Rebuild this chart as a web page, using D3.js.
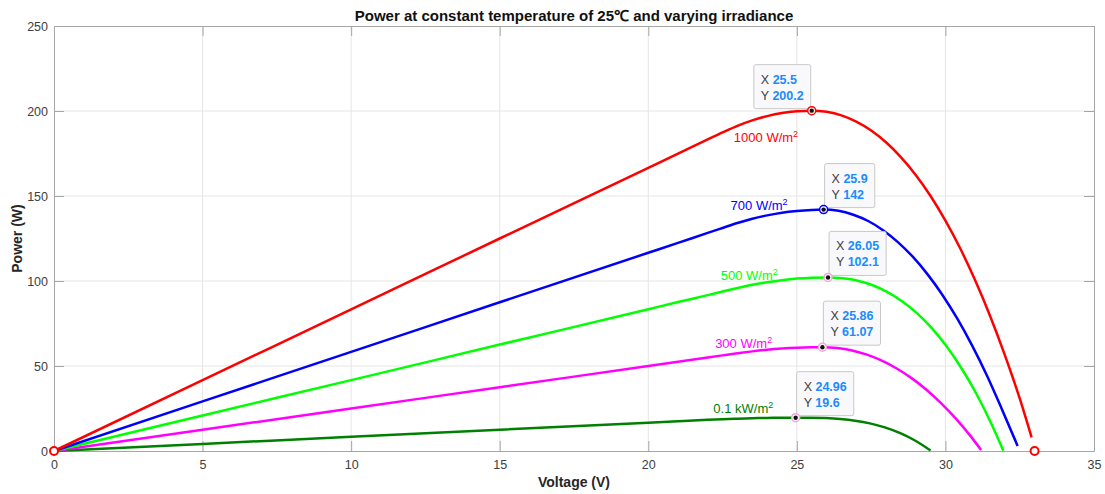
<!DOCTYPE html>
<html>
<head>
<meta charset="utf-8">
<script src="https://cdn.jsdelivr.net/npm/d3@7"></script>
<style>
    body { margin: 0; background: #fff; }
    text { font-family: "Liberation Sans", Arial, Helvetica, sans-serif; }
</style>
</head>
<body>
<div id="chart"></div>
<script>
// ---- data ----
var v1000 = [0, 5, 10, 15, 20, 21, 22, 22.5, 23, 23.5, 24, 24.5, 25, 25.5, 26, 26.5, 27, 27.5, 28, 28.5, 29, 29.5, 30, 30.5, 31, 31.5, 32, 32.5, 32.9];
var p1000 = [0, 41.7, 83.3, 125.0, 166.6, 174.9, 183.3, 187.4, 191.3, 194.5, 197.0, 198.8, 199.8, 200.2, 199.5, 197.4, 193.7, 188.5, 181.6, 172.9, 162.4, 150.0, 135.5, 119.1, 100.4, 79.6, 56.4, 30.9, 8.0];

var v700 = [0, 5, 10, 15, 20, 21, 22, 22.5, 23, 23.5, 24, 24.5, 25, 25.5, 25.9, 26.4, 26.9, 27.4, 27.9, 28.4, 28.9, 29.4, 29.9, 30.4, 30.9, 31.4, 31.9, 32.43];
var p700 = [0, 29.2, 58.3, 87.5, 116.6, 122.4, 128.3, 131.2, 134.1, 136.6, 138.6, 140.2, 141.2, 141.8, 142, 141.3, 139.0, 135.3, 129.9, 122.9, 114.3, 103.9, 91.8, 77.8, 62.0, 44.3, 24.6, 3.0];

var v500 = [0, 5, 10, 15, 20, 21, 22, 22.5, 23, 23.5, 24, 24.5, 25, 25.5, 26.05, 26.55, 27.05, 27.55, 28.05, 28.55, 29.05, 29.55, 30.05, 30.55, 31.05, 31.55, 31.95];
var p500 = [0, 20.9, 41.7, 62.6, 83.4, 87.6, 91.7, 93.8, 95.9, 97.8, 99.3, 100.5, 101.4, 101.9, 102.1, 101.6, 100.2, 97.5, 93.5, 88.0, 81.0, 72.1, 61.3, 48.4, 33.4, 15.9, 0.1];

var v300 = [0, 5, 10, 15, 20, 21, 22, 22.5, 23, 23.5, 24, 24.5, 25, 25.5, 25.86, 26.36, 26.86, 27.36, 27.86, 28.36, 28.86, 29.36, 29.86, 30.36, 30.86, 31.2];
var p300 = [0, 12.5, 25, 37.5, 50, 52.5, 55, 56.25, 57.5, 58.6, 59.56, 60.26, 60.75, 61.01, 61.07, 60.59, 59.13, 56.66, 53.14, 48.55, 42.86, 36.04, 28.05, 18.86, 8.45, 0.6];

var v100 = [0, 5, 10, 15, 20, 21, 22, 22.5, 23, 23.5, 24, 24.5, 24.96, 25.46, 25.96, 26.46, 26.96, 27.46, 27.96, 28.46, 28.96, 29.5];
var p100 = [0, 4.17, 8.33, 12.5, 16.66, 17.49, 18.32, 18.72, 19.04, 19.29, 19.47, 19.57, 19.6, 19.56, 19.36, 18.83, 17.84, 16.24, 13.88, 10.63, 6.32, 0.3];

var seriesNames = ['1000 W/m', '700 W/m', '500 W/m', '300 W/m', '0.1 kW/m'];
// where each curve label sits (data units)
var labelV = [22.88, 22.77, 22.44, 22.25, 22.19];
var labelP = [181.8, 141.8, 100.6, 60.6, 22.5];

// data tips
var tipX = ['25.5', '25.9', '26.05', '25.86', '24.96'];
var tipY = ['200.2', '142', '102.1', '61.07', '19.6'];

// open circles on the red curve (short circuit / open circuit)
var redMarkV = [0, 33];
var redMarkP = [0, 0];

var xTicks = [0, 5, 10, 15, 20, 25, 30, 35];
var yTicks = [0, 50, 100, 150, 200, 250];

// ---- styles ----
var colors = ['#ff0000', '#0000ff', '#00ff00', '#ff00ff', '#008000'];
var tipRing = ['#ff0000', '#0000ff', '#f4a6d8', '#f4a6d8', '#f4a6d8'];
var tipLeft = [true, false, false, false, false];

var width = 1105, height = 494;
var plot = { left: 54, right: 1094, top: 26, bottom: 451 };

var svg = d3.select('#chart').append('svg')
    .attr('width', width)
    .attr('height', height);

var x = d3.scaleLinear().domain([0, 35]).range([plot.left, plot.right]);
var y = d3.scaleLinear().domain([0, 250]).range([plot.bottom, plot.top]);

// grid
var grid = svg.append('g').attr('class', 'grid');
grid.selectAll('line.gx').data(xTicks.slice(1, -1)).enter().append('line')
    .attr('x1', function (d) { return x(d); }).attr('x2', function (d) { return x(d); })
    .attr('y1', plot.top).attr('y2', plot.bottom)
    .attr('stroke', '#e6e6e6').attr('stroke-width', 1);
grid.selectAll('line.gy').data(yTicks.slice(1, -1)).enter().append('line')
    .attr('y1', function (d) { return y(d); }).attr('y2', function (d) { return y(d); })
    .attr('x1', plot.left).attr('x2', plot.right)
    .attr('stroke', '#e6e6e6').attr('stroke-width', 1);

// axes (ticks pointing inward, box on all sides)
function styleAxis(g) {
    g.select('.domain').attr('stroke', '#a6a6a6');
    g.selectAll('.tick line').attr('stroke', '#a6a6a6');
    g.selectAll('.tick text').attr('fill', '#404040')
        .style('font-size', '12.5px')
        .style('font-family', '"Liberation Sans", Arial, sans-serif');
}
svg.append('g').attr('transform', 'translate(0,' + plot.bottom + ')')
    .call(d3.axisBottom(x).tickValues(xTicks).tickSizeInner(-10).tickSizeOuter(0).tickPadding(9))
    .call(styleAxis);
svg.append('g').attr('transform', 'translate(0,' + plot.top + ')')
    .call(d3.axisTop(x).tickValues(xTicks).tickSizeInner(-10).tickSizeOuter(0).tickFormat(''))
    .call(styleAxis);
svg.append('g').attr('transform', 'translate(' + plot.left + ',0)')
    .call(d3.axisLeft(y).tickValues(yTicks).tickSizeInner(-10).tickSizeOuter(0).tickPadding(6))
    .call(styleAxis);
svg.append('g').attr('transform', 'translate(' + plot.right + ',0)')
    .call(d3.axisRight(y).tickValues(yTicks).tickSizeInner(-10).tickSizeOuter(0).tickFormat(''))
    .call(styleAxis);

// curves
var curves = [[v1000, p1000], [v700, p700], [v500, p500], [v300, p300], [v100, p100]];
var line = d3.line()
    .x(function (d) { return x(d[0]); })
    .y(function (d) { return y(d[1]); })
    .curve(d3.curveMonotoneX);

// draw the weakest first so red lands on top
for (var i = curves.length - 1; i >= 0; i--) {
    var pts = curves[i][0].map(function (v, k) { return [v, curves[i][1][k]]; });
    svg.append('path')
        .datum(pts)
        .attr('d', line)
        .attr('fill', 'none')
        .attr('stroke', colors[i])
        .attr('stroke-width', 2.5);
}

// red open circles
svg.selectAll('circle.redmark').data(redMarkV).enter().append('circle')
    .attr('cx', function (d) { return x(d); })
    .attr('cy', function (d, k) { return y(redMarkP[k]); })
    .attr('r', 4)
    .attr('fill', '#fff')
    .attr('stroke', '#ff0000')
    .attr('stroke-width', 2);

// curve labels
seriesNames.forEach(function (name, k) {
    var t = svg.append('text')
        .attr('x', x(labelV[k]))
        .attr('y', y(labelP[k]))
        .attr('fill', colors[k])
        .style('font-size', '13px');
    t.append('tspan').text(name);
    t.append('tspan').attr('dy', -5).style('font-size', '9px').text('2');
});

// data tips
tipX.forEach(function (xv, k) {
    var mx = x(+xv), my = y(+tipY[k]);
    var g = svg.append('g');
    var box = g.append('rect')
        .attr('fill', '#f9f9fc')
        .attr('stroke', '#c8c8c8')
        .attr('stroke-width', 1)
        .attr('rx', 2);
    var t1 = g.append('text').style('font-size', '12.5px');
    t1.append('tspan').attr('fill', '#404040').text('X ');
    t1.append('tspan').attr('fill', '#1a8cff').attr('font-weight', 'bold').text(xv);
    var t2 = g.append('text').style('font-size', '12.5px');
    t2.append('tspan').attr('fill', '#404040').text('Y ');
    t2.append('tspan').attr('fill', '#1a8cff').attr('font-weight', 'bold').text(tipY[k]);
    var w = Math.max(t1.node().getComputedTextLength(), t2.node().getComputedTextLength()) + 14;
    var h = 44;
    var bx = tipLeft[k] ? mx - 1 - w : mx + 1;
    var by = my - 2 - h;
    box.attr('x', bx).attr('y', by).attr('width', w).attr('height', h);
    t1.attr('x', bx + 7).attr('y', by + 19);
    t2.attr('x', bx + 7).attr('y', by + 35);

    svg.append('circle').attr('cx', mx).attr('cy', my).attr('r', 4)
        .attr('fill', '#fff').attr('stroke', tipRing[k]).attr('stroke-width', 1.5);
    svg.append('circle').attr('cx', mx).attr('cy', my).attr('r', 2.2).attr('fill', '#111');
});

// title and axis labels
svg.append('text')
    .attr('x', (plot.left + plot.right) / 2).attr('y', 21)
    .attr('text-anchor', 'middle')
    .attr('font-weight', 'bold')
    .style('font-size', '15px')
    .attr('fill', '#111')
    .text('Power at constant temperature of 25\u2103 and varying irradiance');

svg.append('text')
    .attr('x', (plot.left + plot.right) / 2).attr('y', 487)
    .attr('text-anchor', 'middle')
    .attr('font-weight', 'bold')
    .style('font-size', '14px')
    .attr('fill', '#262626')
    .text('Voltage (V)');

svg.append('text')
    .attr('transform', 'translate(22,' + ((plot.top + plot.bottom) / 2) + ') rotate(-90)')
    .attr('text-anchor', 'middle')
    .attr('font-weight', 'bold')
    .style('font-size', '14px')
    .attr('fill', '#262626')
    .text('Power (W)');
</script>
</body>
</html>
